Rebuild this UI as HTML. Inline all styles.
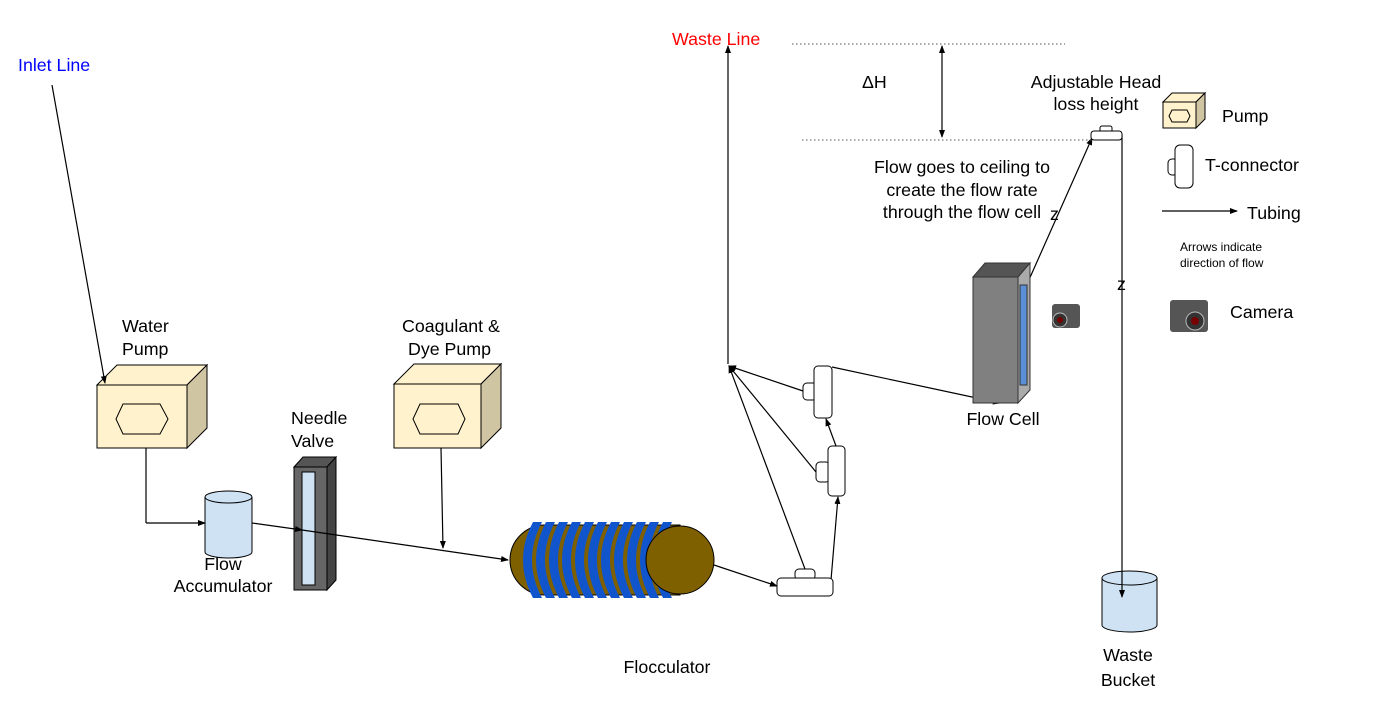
<!DOCTYPE html>
<html><head><meta charset="utf-8"><style>body{margin:0;background:#fff}svg{display:block}text{font-family:"Liberation Sans",sans-serif;font-size:17.8px;fill:#000}</style></head><body>
<svg width="1374" height="714" viewBox="0 0 1374 714" xmlns="http://www.w3.org/2000/svg">
<defs><marker id="a" markerWidth="8" markerHeight="8" refX="7" refY="4" orient="auto" markerUnits="userSpaceOnUse"><path d="M0,1 L8,4 L0,7z" fill="#000"/></marker></defs>
<!-- pumps -->
<g stroke="#000" stroke-width="1">
<polygon points="97,385 117,365 207,365 187,385" fill="#fff2cc"/>
<polygon points="187,385 207,365 207,428 187,448" fill="#d0c5a3"/>
<rect x="97" y="385" width="90" height="63" fill="#fff2cc"/>
<polygon points="116,419 123,404 160,404 168,419 160,434 123,434" fill="none"/>
<polygon points="394,384 414,364 501,364 481,384" fill="#fff2cc"/>
<polygon points="481,384 501,364 501,428 481,448" fill="#d0c5a3"/>
<rect x="394" y="384" width="87" height="64" fill="#fff2cc"/>
<polygon points="413,419 420,404 458,404 465,419 458,434 420,434" fill="none"/>
<polygon points="1163,102 1172,93 1205,93 1196,102" fill="#fff2cc"/>
<polygon points="1196,102 1205,93 1205,119 1196,128" fill="#d0c5a3"/>
<rect x="1163" y="102" width="33" height="26" fill="#fff2cc"/>
<polygon points="1169,116 1172,110 1187,110 1190,116 1187,122 1172,122" fill="none"/>
<path d="M205,497 V552 A23.5,6 0 0 0 252,552 V497" fill="#cfe2f3"/>
<ellipse cx="228.5" cy="497" rx="23.5" ry="6" fill="#cfe2f3"/>
<path d="M1102,578 V625 A27.5,7 0 0 0 1157,625 V578" fill="#cfe2f3"/>
<ellipse cx="1129.5" cy="578" rx="27.5" ry="7" fill="#cfe2f3"/>
<polygon points="294,467 303,457 336,457 327,467" fill="#555"/>
<polygon points="327,467 336,457 336,580 327,590" fill="#444"/>
<rect x="294" y="467" width="33" height="123" fill="#666"/>
<rect x="302" y="472" width="13" height="113" fill="#cfe2f3"/>
</g>
<g stroke="#000" stroke-width="1.2" fill="none">
<line x1="52" y1="85" x2="105" y2="383" marker-end="url(#a)"/>
<polyline points="146,448 146,523"/><line x1="146" y1="523" x2="205" y2="523" marker-end="url(#a)"/>
<line x1="252" y1="523" x2="302" y2="530" marker-end="url(#a)"/>
<line x1="302" y1="530" x2="508" y2="560" marker-end="url(#a)"/>
<line x1="441" y1="448" x2="443" y2="548" marker-end="url(#a)"/>
<line x1="714" y1="565" x2="777" y2="586" marker-end="url(#a)"/>
<line x1="805" y1="569" x2="729" y2="366" marker-end="url(#a)"/>
<line x1="831" y1="580" x2="838" y2="497" marker-end="url(#a)"/>
<line x1="816" y1="472" x2="729" y2="366" marker-end="url(#a)"/>
<line x1="836" y1="446" x2="826" y2="419" marker-end="url(#a)"/>
<line x1="803" y1="391" x2="729" y2="366" marker-end="url(#a)"/>
<line x1="832" y1="367" x2="1000" y2="403" marker-end="url(#a)"/>
<line x1="728" y1="364" x2="728" y2="46" marker-end="url(#a)"/>
<line x1="1028" y1="282" x2="1092" y2="138" marker-end="url(#a)"/>
<line x1="1122" y1="135" x2="1122" y2="597" marker-end="url(#a)"/>
<line x1="942" y1="60" x2="942" y2="46" marker-end="url(#a)"/>
<line x1="942" y1="60" x2="942" y2="137" marker-end="url(#a)"/>
<line x1="1162" y1="211" x2="1237" y2="211" marker-end="url(#a)"/>
</g>
<g stroke="#555" stroke-width="1" stroke-dasharray="1.5,2.5">
<line x1="792" y1="44" x2="1065" y2="44"/><line x1="802" y1="140" x2="1092" y2="140"/>
</g>
<g stroke="#000" stroke-width="1">
<path d="M545,525 H680 V595 H545 A35,35 0 0 1 545,525z" fill="#7f6000"/>
</g>
<g fill="#1155cc">
<path d="M533,522 q-20,38 0,76 h9 q-20,-38 0,-76z"/><path d="M546,522 q-20,38 0,76 h9 q-20,-38 0,-76z"/><path d="M559,522 q-20,38 0,76 h9 q-20,-38 0,-76z"/><path d="M572,522 q-20,38 0,76 h9 q-20,-38 0,-76z"/><path d="M585,522 q-20,38 0,76 h9 q-20,-38 0,-76z"/><path d="M598,522 q-20,38 0,76 h9 q-20,-38 0,-76z"/><path d="M611,522 q-20,38 0,76 h9 q-20,-38 0,-76z"/><path d="M624,522 q-20,38 0,76 h9 q-20,-38 0,-76z"/><path d="M637,522 q-20,38 0,76 h9 q-20,-38 0,-76z"/><path d="M650,522 q-20,38 0,76 h9 q-20,-38 0,-76z"/><path d="M663,522 q-20,38 0,76 h9 q-20,-38 0,-76z"/>
</g>
<circle cx="680" cy="560" r="34" fill="#7f6000" stroke="#000"/>
<g stroke="#000" stroke-width="1" fill="#fff">
<rect x="795" y="569" width="20" height="11" rx="4"/><rect x="777" y="578" width="56" height="18" rx="4"/>
<rect x="816" y="462" width="14" height="20" rx="4"/><rect x="828" y="446" width="17" height="50" rx="4"/>
<rect x="803" y="383" width="14" height="17" rx="4"/><rect x="814" y="366" width="18" height="52" rx="4"/>
<rect x="1100" y="126" width="12" height="6" rx="2"/><rect x="1091" y="131" width="31" height="9" rx="3"/>
<rect x="1168" y="159" width="10" height="16" rx="4"/><rect x="1175" y="145" width="18" height="43" rx="5"/>
</g>
<g stroke="#333" stroke-width="1">
<polygon points="973,277 985,263 1030,263 1018,277" fill="#555"/>
<polygon points="1018,277 1030,263 1030,390 1018,403" fill="#aaa"/>
<rect x="973" y="277" width="45" height="126" fill="#808080"/>
<rect x="1020" y="285" width="7" height="100" fill="#5b8fd6"/>
</g>
<g><rect x="1052" y="304" width="28" height="24" rx="3" fill="#555"/><circle cx="1060" cy="320" r="7" fill="#333" stroke="#bbb"/><circle cx="1060" cy="320" r="3" fill="#700"/>
<rect x="1170" y="300" width="38" height="32" rx="3" fill="#555"/><circle cx="1195" cy="321" r="9" fill="#333" stroke="#bbb"/><circle cx="1195" cy="321" r="4" fill="#700"/></g>
<text x="18" y="71" style="fill:#0000ff">Inlet Line</text>
<text x="672" y="45" style="fill:#ff0000">Waste Line</text>
<text x="122" y="332">Water</text><text x="122" y="355">Pump</text>
<text x="402" y="332">Coagulant &amp;</text><text x="408" y="355">Dye Pump</text>
<text x="291" y="424">Needle</text><text x="291" y="447">Valve</text>
<text x="223" y="570" text-anchor="middle">Flow</text><text x="223" y="592" text-anchor="middle">Accumulator</text>
<text x="667" y="673" text-anchor="middle">Flocculator</text>
<text x="1003" y="425" text-anchor="middle">Flow Cell</text>
<text x="1128" y="661" text-anchor="middle">Waste</text><text x="1128" y="686" text-anchor="middle">Bucket</text>
<text x="862" y="88">ΔH</text>
<text x="1096" y="88" text-anchor="middle">Adjustable Head</text><text x="1096" y="110" text-anchor="middle">loss height</text>
<text x="962" y="173" text-anchor="middle">Flow goes to ceiling to</text><text x="962" y="196" text-anchor="middle">create the flow rate</text><text x="962" y="218" text-anchor="middle">through the flow cell</text>
<text x="1050" y="220">z</text><text x="1117" y="290">z</text>
<text x="1222" y="122">Pump</text><text x="1205" y="171">T-connector</text><text x="1247" y="219">Tubing</text>
<text x="1180" y="251" style="font-size:12px">Arrows indicate</text><text x="1180" y="267" style="font-size:12px">direction of flow</text>
<text x="1230" y="318">Camera</text>
</svg>
</body></html>
